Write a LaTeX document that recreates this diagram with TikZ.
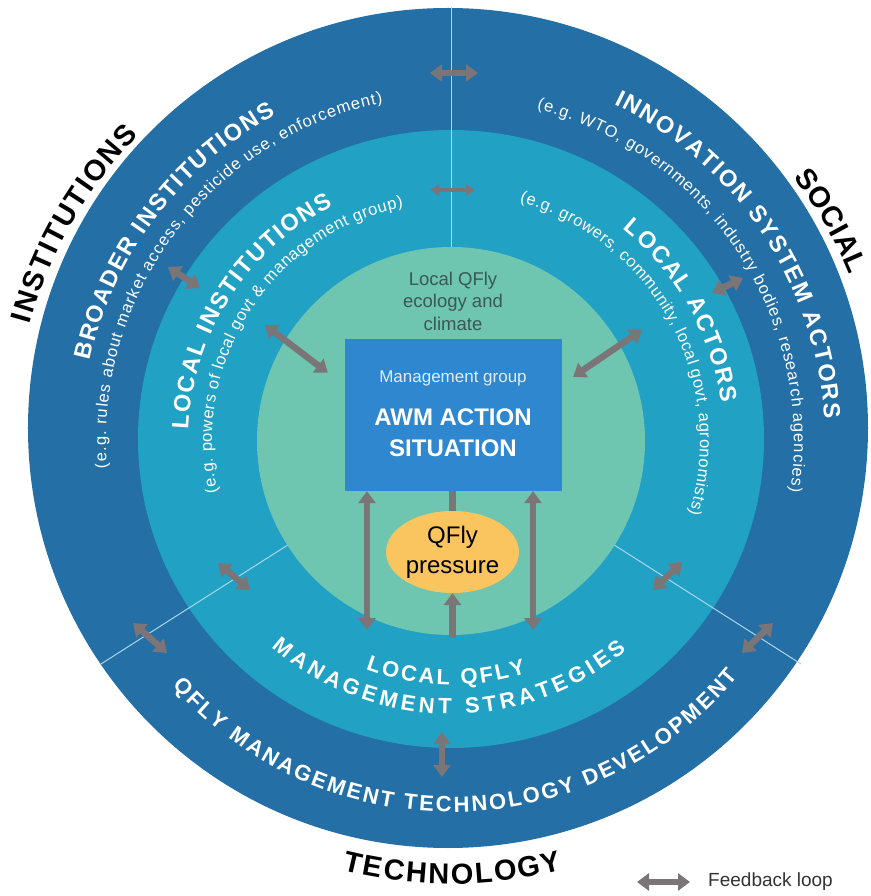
\documentclass[tikz,border=0pt]{standalone}
\usepackage{fontspec}
\setmainfont{Liberation Sans}
\usetikzlibrary{arrows.meta,positioning,decorations.text,shapes.geometric}
\definecolor{OuterBlue}{RGB}{35,111,166}
\definecolor{RingTeal}{RGB}{33,161,196}
\definecolor{CoreGreen}{RGB}{110,197,176}
\definecolor{BoxBlue}{RGB}{46,135,207}
\definecolor{PestGold}{RGB}{250,197,94}
\definecolor{LoopGray}{RGB}{123,117,120}
\definecolor{EcoText}{RGB}{58,88,84}
\definecolor{RuleLine}{RGB}{170,215,235}
\newcommand\ringtitle{\fontsize{23.5}{23.5}\selectfont\bfseries}
\newcommand\bottomtitle{\fontsize{22}{22}\selectfont\bfseries}
\newcommand\ringnote{\fontsize{16.5}{16.5}\selectfont}
\newcommand\sectortitle{\fontsize{29}{29}\selectfont\bfseries}

\begin{document}
\begin{tikzpicture}[x=1pt,y=1pt,>={Triangle[length=12pt,width=17pt]},
  fb/.style={line width=6.5pt,LoopGray},
  fbthin/.style={line width=4pt,LoopGray,>={Triangle[length=9pt,width=11pt]}},
  divider/.style={RuleLine,line width=1pt},
  whitetxt/.style={decorate,decoration={text along path,text align={fit to path},text color=white,text={#1}}},
  blacktxt/.style={decorate,decoration={text along path,text align={fit to path},text color=black,text={#1}}}]
\useasboundingbox (-451,-455) rectangle (419,441);
\fill[OuterBlue] (-3,13) circle[radius=420];
\fill[RingTeal] (0,2) ellipse[x radius=313,y radius=309];
\fill[CoreGreen] (0,0) circle[radius=194];
\draw[divider] (90:194) -- (90:434);
\draw[divider] (212.5:194) -- (212.5:416);
\draw[divider] (327.5:194) -- (327.5:415);

\path[whitetxt={|\ringtitle|BROADER INSTITUTIONS}] (167.5:370) arc[start angle=167.5,end angle=118.3,radius=370];
\path[whitetxt={|\ringnote|(e.g. rules about market access, pesticide use, enforcement)}] (184.5:345) arc[start angle=184.5,end angle=101.5,radius=345];
\path[whitetxt={|\ringtitle|INNOVATION SYSTEM ACTORS}] (64.2:374) arc[start angle=64.2,end angle=3.4,radius=374];
\path[whitetxt={|\ringnote|(e.g. WTO, governments, industry bodies, research agencies)}] (75.5:343) arc[start angle=75.5,end angle=-8.5,radius=343];
\path[whitetxt={|\ringtitle|LOCAL INSTITUTIONS}] (177.6:263) arc[start angle=177.6,end angle=116.6,radius=263];
\path[whitetxt={|\ringnote|(e.g. powers of local govt {\&} management group)}] (192.5:239) arc[start angle=192.5,end angle=101.5,radius=239];
\path[whitetxt={|\ringtitle|LOCAL ACTORS}] (51:273) arc[start angle=51,end angle=8.1,radius=273];
\path[whitetxt={|\ringnote|(e.g. growers, community, local govt, agronomists)}] (74:249) arc[start angle=74,end angle=-17,radius=249];
\path[whitetxt={|\bottomtitle|LOCAL QFLY}] (249.5:244) arc[start angle=249.5,end angle=288,radius=244];
\path[whitetxt={|\bottomtitle|MANAGEMENT STRATEGIES}] (229:273) arc[start angle=229,end angle=310,radius=273];
\path[whitetxt={|\bottomtitle|QFLY MANAGEMENT TECHNOLOGY DEVELOPMENT}] (221.3:371) arc[start angle=221.3,end angle=320.7,radius=371];
\path[blacktxt={|\sectortitle|INSTITUTIONS}] (164.5:437) arc[start angle=164.5,end angle=135.6,radius=437];
\path[blacktxt={|\sectortitle|SOCIAL}] (37.6:432) arc[start angle=37.6,end angle=22.6,radius=432];
\path[blacktxt={|\sectortitle|TECHNOLOGY}] (255.8:443) arc[start angle=255.8,end angle=284.6,radius=443];

\node[font=\fontsize{18.5}{22.5}\selectfont,text=EcoText,align=center] (eco) at (2,140) {Local QFly\\ecology and\\climate};
\node[fill=BoxBlue,minimum width=217pt,minimum height=152pt,inner sep=0pt] (awm) at (2.5,26) {};
\node[font=\fontsize{17}{17}\selectfont,text=white!85!BoxBlue] (mgroup) at (2,63) {Management group};
\node[font=\fontsize{24}{31}\selectfont\bfseries,text=white,align=center] (awmtitle) at (2,8.5) {AWM ACTION\\SITUATION};
\node[ellipse,fill=PestGold,minimum width=133pt,minimum height=82pt,inner sep=0pt,
  font=\fontsize{24}{30}\selectfont,align=center] (qfly) at (1.5,-111) {QFly\\pressure};

\coordinate (lfoot) at (-84,-189);
\coordinate (rfoot) at (82,-189);
\coordinate (qbase) at (1.5,-197);
\coordinate (linst) at (-186,116);
\coordinate (lact) at (191,111);
\draw[<->,fb] (awm.south -| lfoot) -- (lfoot);
\draw[<->,fb] (awm.south -| rfoot) -- (rfoot);
\draw[fb] (qfly.north) -- (awm.south -| qfly.north);
\draw[->,fb] (qbase) -- (qfly.south);
\draw[<->,fb] (linst) -- ([shift={(-17pt,-34pt)}]awm.north west);
\draw[<->,fb] (lact) -- ([shift={(11pt,-38pt)}]awm.north east);

\coordinate (otopW) at (-21,368); \coordinate (otopE) at (27,368);
\coordinate (ttopW) at (-21,251); \coordinate (ttopE) at (24,251);
\coordinate (ulA) at (-283,174); \coordinate (ulB) at (-251,153);
\coordinate (urA) at (261,148); \coordinate (urB) at (292,163);
\coordinate (lltA) at (-233,-122); \coordinate (lltB) at (-201,-149);
\coordinate (lloA) at (-318,-182); \coordinate (lloB) at (-284,-212);
\coordinate (lrtA) at (202,-149); \coordinate (lrtB) at (231,-121);
\coordinate (lroA) at (291,-212); \coordinate (lroB) at (322,-182);
\coordinate (botA) at (-9,-291); \coordinate (botB) at (-9,-336);
\draw[<->,fb] (otopW) -- (otopE);
\draw[<->,fbthin] (ttopW) -- (ttopE);
\draw[<->,fb] (ulA) -- (ulB);
\draw[<->,fb] (urA) -- (urB);
\draw[<->,fb] (lltA) -- (lltB);
\draw[<->,fb] (lloA) -- (lloB);
\draw[<->,fb] (lrtA) -- (lrtB);
\draw[<->,fb] (lroA) -- (lroB);
\draw[<->,fb] (botA) -- (botB);

\coordinate (keyL) at (186,-441);
\coordinate (keyR) at (239,-441);
\draw[<->,fb] (keyL) -- (keyR);
\node[right=18pt of keyR,inner sep=0pt,font=\fontsize{19}{19}\selectfont,text=black!80] (keytext) {Feedback loop};
\end{tikzpicture}
\end{document}
